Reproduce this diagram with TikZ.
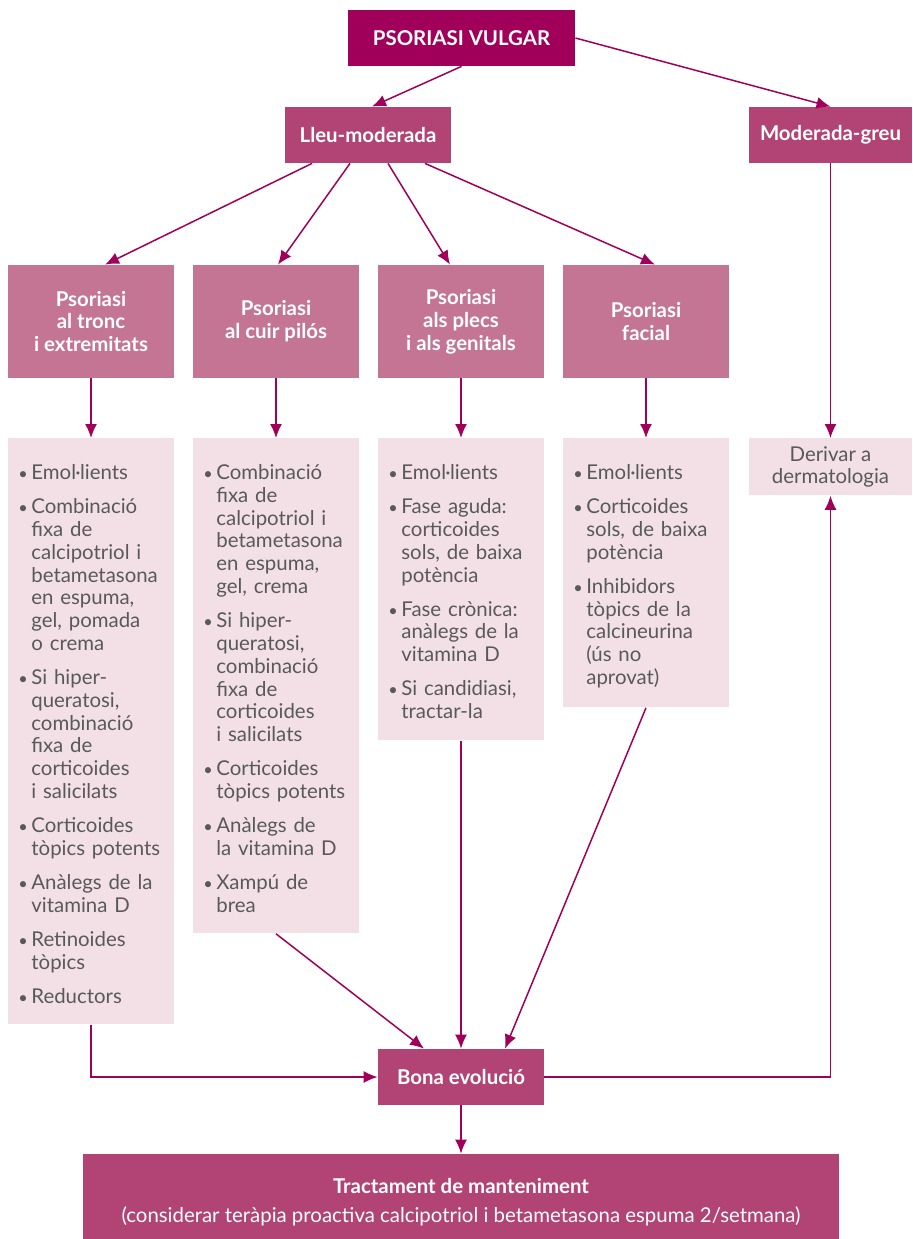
\documentclass[tikz,border=0pt]{standalone}
\usepackage{fontspec}
\setmainfont{Lato}
\usetikzlibrary{arrows.meta,calc}
\newcommand{\flowsize}{\fontsize{10.2}{11.4}\selectfont}
\newcommand{\listsetup}{\setlength{\parskip}{5.65pt}\hyphenpenalty=10000\relax}
\newcommand{\itm}[1]{\par\hangindent=6.5pt\hangafter=1\noindent\makebox[6.5pt][l]{\scalebox{0.8}{\textbullet}}#1\par}

\definecolor{pvmag}{HTML}{A0005A}
\definecolor{sevmag}{HTML}{B24475}
\definecolor{locpink}{HTML}{C47593}
\definecolor{listpink}{HTML}{F2E0E6}
\definecolor{txtgray}{HTML}{58595B}

\tikzset{
  box/.style={rectangle, inner sep=0pt},
  topbox/.style={box, fill=pvmag, text=white, font=\flowsize\bfseries,
    minimum width=113.5pt, minimum height=28pt},
  sevbox/.style={box, fill=sevmag, text=white, font=\flowsize\bfseries,
    minimum height=28pt},
  locbox/.style={box, fill=locpink, text=white, font=\flowsize\bfseries,
    align=center, minimum width=83pt, minimum height=56.5pt},
  listbox/.style={box, fill=listpink, anchor=north, minimum width=83pt},
  listtext/.style={anchor=north west, inner sep=0pt, text width=80pt,
    text=txtgray, align=left, font=\flowsize,
    execute at begin node=\listsetup},
  flow/.style={-{Latex[length=7pt,width=6pt]}, draw=pvmag, line width=0.75pt}
}

\begin{document}
\begin{tikzpicture}[x=0.5pt, y=-0.5pt]
	\useasboundingbox (0,0) rectangle (912,1239);

	% severity
	\node[topbox] (pv) at (461.5,38) {PSORIASI VULGAR};
	\node[sevbox, minimum width=83pt] (lleu) at (368,135) {Lleu-moderada};
	\node[sevbox, minimum width=81.5pt] (mg) at (830.5,135) {Moderada-greu};

	% location
	\node[locbox] (tronc) at (91,321.5) {Psoriasi\\al tronc\\i extremitats};
	\node[locbox] (cuir) at (276,321.5) {Psoriasi\\al cuir pilós};
	\node[locbox] (plecs) at (461,321.5) {Psoriasi\\als plecs\\i als genitals};
	\node[locbox] (facial) at (646,321.5) {Psoriasi\\facial};

	% treatments
	\node[listbox, minimum height=293pt] (ltronc) at (91,438) {};
	\node[listbox, minimum height=247.5pt] (lcuir) at (276,438) {};
	\node[listbox, minimum height=151pt] (lplecs) at (461,438) {};
	\node[listbox, minimum height=134.5pt] (lfacial) at (646,438) {};
	\node[listbox, minimum width=81.5pt, minimum height=28.5pt,
		text=txtgray, font=\flowsize, align=center] (der) at (830.5,438)
		{Derivar a\\dermatologia};

	\node[listtext] (ttronc) at (18,445) {%
		\itm{Emol·lients}
		\itm{Combinació\newline fixa de\newline calcipotriol i\newline betametasona\newline en espuma,\newline gel, pomada\newline o crema}
		\itm{Si hiper-\newline queratosi,\newline combinació\newline fixa de\newline corticoides\newline i salicilats}
		\itm{Corticoides\newline tòpics potents}
		\itm{Anàlegs de la\newline vitamina D}
		\itm{Retinoides\newline tòpics}
		\itm{Reductors}};
	\node[listtext] (tcuir) at (203,445) {%
		\itm{Combinació\newline fixa de\newline calcipotriol i\newline betametasona\newline en espuma,\newline gel, crema}
		\itm{Si hiper-\newline queratosi,\newline combinació\newline fixa de\newline corticoides\newline i salicilats}
		\itm{Corticoides\newline tòpics potents}
		\itm{Anàlegs de\newline la vitamina D}
		\itm{Xampú de\newline brea}};
	\node[listtext] (tplecs) at (388,445) {%
		\itm{Emol·lients}
		\itm{Fase aguda:\newline corticoides\newline sols, de baixa\newline potència}
		\itm{Fase crònica:\newline anàlegs de la\newline vitamina D}
		\itm{Si candidiasi,\newline tractar-la}};
	\node[listtext] (tfacial) at (573,445) {%
		\itm{Emol·lients}
		\itm{Corticoides\newline sols, de baixa\newline potència}
		\itm{Inhibidors\newline tòpics de la\newline calcineurina\newline (ús no\newline aprovat)}};

	% outcome
	\node[sevbox, minimum width=83pt] (bona) at (461,1077) {Bona evolució};
	\node[sevbox, minimum width=378pt, minimum height=42.5pt] (tract) at (461,1196.5) {};
	\node[text=white, font=\flowsize, align=center, inner sep=0pt]
		(tracttext) at ($(tract.center)+(0,6)$)
		{\textbf{Tractament de manteniment}\\[3.2pt]
		(considerar teràpia proactiva calcipotriol i betametasona espuma 2/setmana)};

	\draw[flow] (pv.south) -- ($(lleu.north)+(4,0)$);
	\draw[flow] (pv.east) -- (mg.north);
	\draw[flow] ($(lleu.south)+(-56,0)$) -- ($(tronc.north)+(14,0)$);
	\draw[flow] ($(lleu.south)+(-18,0)$) -- ($(cuir.north)+(2,0)$);
	\draw[flow] ($(lleu.south)+(20,0)$) -- ($(plecs.north)+(-11,0)$);
	\draw[flow] ($(lleu.south)+(57,0)$) -- ($(facial.north)+(9,0)$);

	\draw[flow] (tronc) -- (ltronc);
	\draw[flow] (cuir) -- (lcuir);
	\draw[flow] (plecs) -- (lplecs);
	\draw[flow] (facial) -- (lfacial);
	\draw[flow] (mg) -- (der);

	\draw[flow] (ltronc.south) |- (bona.west);
	\draw[flow] (lcuir.south) -- ($(bona.north)+(-37,0)$);
	\draw[flow] (lplecs.south) -- (bona.north);
	\draw[flow] (lfacial.south) -- ($(bona.north)+(44,0)$);
	\draw[flow] (bona.east) -| (der.south);
	\draw[flow] (bona) -- (tract);
\end{tikzpicture}
\end{document}
